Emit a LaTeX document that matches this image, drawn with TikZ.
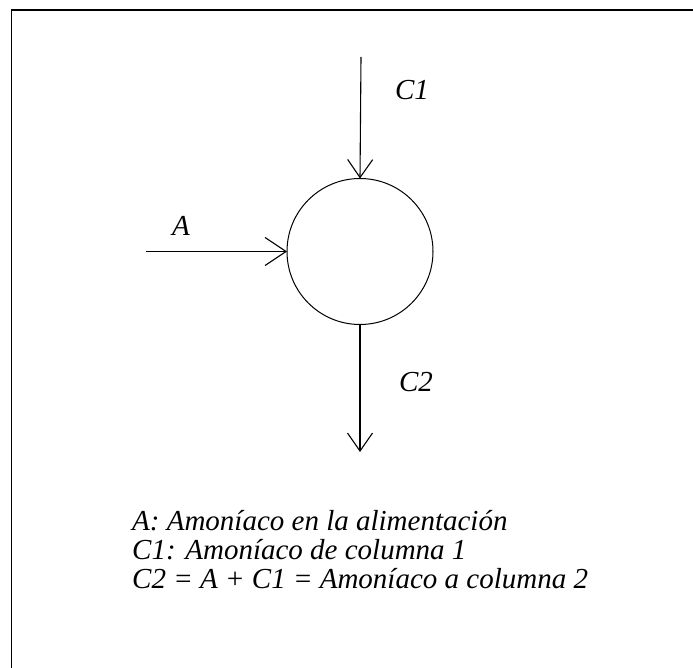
\documentclass[tikz,border=0pt]{standalone}
\usepackage{fontspec}
\setmainfont{Liberation Serif}
\usepackage{tikz}
\usetikzlibrary{arrows.meta,positioning}
\tikzset{
  mixer/.style={circle,draw,line width=1pt,minimum size=146pt,inner sep=0pt,outer sep=0pt},
  ar/.style={-{Straight Barb[length=18pt,width=25pt,line width=1.1pt]},line width=1.1pt},
  lbl/.style={font=\fontsize{29}{30}\selectfont\itshape,inner sep=0pt},
  legend/.style={lbl,anchor=base west,align=left},
}

\begin{document}
\begin{tikzpicture}[x=1pt,y=-1pt]
  \useasboundingbox (0,0) rectangle (693,668);
  \clip (0,0) rectangle (693,668);
  \draw[line width=1.4pt] (11.5,10) rectangle (720,700);
  % mezclador
  \node[mixer] (mix) at (360,251.5) {};
  \coordinate (c1in) at (361,57);
  \coordinate (ain) at (146,251.5);
  \coordinate (c2out) at (360,452);
  \draw[ar] (c1in) -- (mix.north);
  \draw[ar,-{Straight Barb[length=21pt,width=28pt,line width=1.1pt]}] (ain) -- (mix.west);
  \draw[ar] (mix.south) -- (c2out);
  \node[lbl] (lc1) at (412,90) {C1};
  \node[lbl] (la) at (181,226) {A};
  \node[lbl] (lc2) at (416,382) {C2};
  % leyenda
  \node[legend] (l1) at (132,530) {A: Amoníaco en la alimentación};
  \node[legend] (l2) at (132,559) {C1: Amoníaco de columna 1};
  \node[legend] (l3) at (132,588) {C2 = A + C1 = Amoníaco a columna 2};
\end{tikzpicture}
\end{document}
